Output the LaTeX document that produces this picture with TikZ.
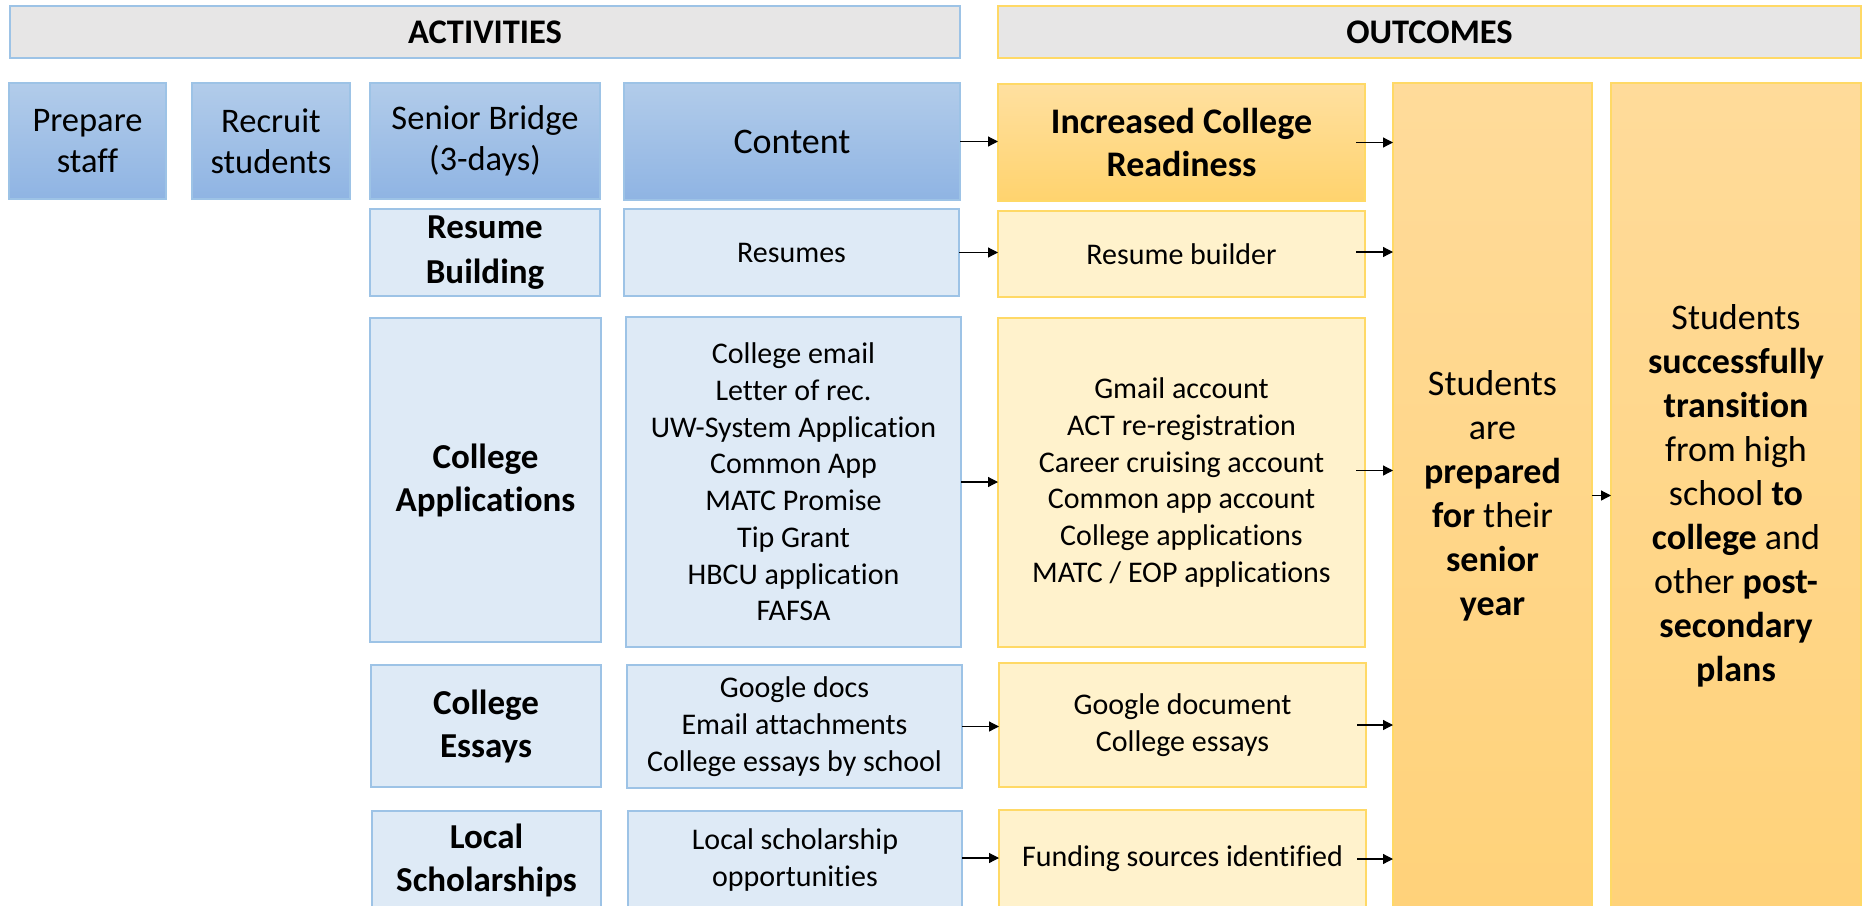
\documentclass[tikz,border=0pt]{standalone}
\usepackage{fontspec}
\setmainfont{Carlito}[Ligatures=NoCommon]
\usetikzlibrary{arrows.meta,shadings}

\definecolor{hdrgray}{HTML}{E7E6E6}
\definecolor{blueline}{HTML}{9DC3E6}
\definecolor{bluetop}{HTML}{B2CCEA}
\definecolor{bluebot}{HTML}{8FB4E3}
\definecolor{bluepale}{HTML}{DEEAF6}
\definecolor{goldline}{HTML}{FFD966}
\definecolor{goldtop}{HTML}{FFE0A0}
\definecolor{goldbot}{HTML}{FFD36E}
\definecolor{goldpale}{HTML}{FFF2CC}
\definecolor{coltop}{HTML}{FFDB9A}
\definecolor{colbot}{HTML}{FFD27A}

\newcommand{\fsz}[2]{\fontsize{#1}{#2}\selectfont}

\tikzset{
  box/.style={rectangle, inner sep=2pt, outer sep=0pt, line width=1.3pt, align=center, text=black},
  header/.style={box, fill=hdrgray, font=\fsz{34.5}{41}\bfseries},
  darkblue/.style={box, draw=blueline, top color=bluetop, bottom color=bluebot},
  paleblue/.style={box, draw=blueline, fill=bluepale},
  goldbox/.style={box, draw=goldline, top color=goldtop, bottom color=goldbot},
  paleyellow/.style={box, draw=goldline, fill=goldpale},
  bigcol/.style={box, draw=goldline, top color=coltop, bottom color=colbot, font=\fsz{36}{44}},
  toplabel/.style={font=\fsz{34.5}{41}},
  rowlabel/.style={font=\fsz{35}{43}\bfseries},
  listtext/.style={font=\fsz{30}{36.7}},
  arr/.style={draw=black, line width=1.2pt, -{Triangle[length=10pt,width=10pt]}},
  wh/.style n args={2}{minimum width=#1pt, minimum height=#2pt}
}

\begin{document}
\begin{tikzpicture}[x=1pt,y=-1pt]
\useasboundingbox (0,0) rectangle (1868,905);
\clip (0,0) rectangle (1868,905);

% section headers
\node[header, draw=blueline, wh={950}{52}] (act) at (485,32) {ACTIVITIES};
\node[header, draw=goldline, wh={863}{52}] (out) at (1429.5,32) {OUTCOMES};

% top row of activities
\node[darkblue, toplabel, wh={157}{116}] (prep) at (87.5,141) {Prepare\\staff};
\node[darkblue, toplabel, wh={158}{116}] (recr) at (271,141) {Recruit\\students};
\node[darkblue, toplabel, wh={230}{116}] (senior) at (485,141) {Senior Bridge\\(3-days)};
\node[darkblue, font=\fsz{36}{43}, wh={336}{117}] (content) at (792,141.5) {Content};
\node[goldbox, font=\fsz{36}{43}\bfseries, wh={367}{117}] (inc) at (1181.5,142.5) {Increased College\\Readiness};

% resume building
\node[paleblue, rowlabel, font=\fsz{35}{45}\bfseries, wh={230}{87}] (resb) at (485,252.5) {Resume\\Building};
\node[paleblue, listtext, wh={335}{87}] (resumes) at (791.5,252.5) {Resumes};
\node[paleyellow, listtext, wh={367}{86}] (resout) at (1181.5,254) {Resume builder};

% college applications
\node[paleblue, rowlabel, wh={231}{324}] (capp) at (485.5,480) {College\\Applications};
\node[paleblue, listtext, wh={335}{330}] (capplist) at (793.5,482) {College email\\Letter of rec.\\UW-System Application\\Common App\\MATC Promise\\Tip Grant\\HBCU application\\FAFSA};
\node[paleyellow, listtext, wh={367}{329}] (cappout) at (1181.5,482.5) {Gmail account\\ACT re-registration\\Career cruising account\\Common app account\\College applications\\MATC / EOP applications};

% college essays
\node[paleblue, rowlabel, wh={230}{122}] (ess) at (486,726) {College\\Essays};
\node[paleblue, listtext, wh={335}{123}] (esslist) at (794.5,726.5) {Google docs\\Email attachments\\College essays by school};
\node[paleyellow, listtext, wh={367}{124}] (essout) at (1182.5,725) {Google document\\College essays};

% local scholarships
\node[paleblue, rowlabel, wh={229}{98}] (loc) at (486.5,860) {Local\\Scholarships};
\node[paleblue, listtext, wh={334}{98}] (loclist) at (795,860) {Local scholarship\\opportunities};
\node[paleyellow, listtext, wh={367}{98}] (locout) at (1182.5,859) {Funding sources identified};

% long-term outcomes
\node[bigcol, wh={199}{825}] (prepared) at (1492.5,495.5)
  {Students\\are\\\textbf{prepared}\\\textbf{for} their\\\textbf{senior}\\\textbf{year}};
\node[bigcol, wh={250}{825}] (transition) at (1736,495.5)
  {Students\\\textbf{successfully}\\\textbf{transition}\\from high\\school \textbf{to}\\\textbf{college} and\\other \textbf{post-}\\\textbf{secondary}\\\textbf{plans}};

% activities to short-term outcomes
\draw[arr] (content.east) -- (content.east -| inc.west);
\draw[arr] (resumes.east) -- (resumes.east -| resout.west);
\draw[arr] (capplist.east) -- (capplist.east -| cappout.west);
\draw[arr] (esslist.east) -- (esslist.east -| essout.west);
\draw[arr] ([yshift=2pt]loclist.east) -- ([yshift=2pt]loclist.east -| locout.west);

% short-term outcomes into the senior-year column
\draw[arr] ([xshift=-9pt]inc.east) -- (inc.east -| prepared.west);
\draw[arr] ([xshift=-9pt,yshift=2pt]resout.east) -- ([yshift=2pt]resout.east -| prepared.west);
\draw[arr] ([xshift=-9pt,yshift=12pt]cappout.east) -- ([yshift=12pt]cappout.east -| prepared.west);
\draw[arr] ([xshift=-9pt]essout.east) -- (essout.east -| prepared.west);
\draw[arr] ([xshift=-9pt]locout.east) -- (locout.east -| prepared.west);

% senior year to transition
\draw[arr] (prepared.east) -- (transition.west);
\end{tikzpicture}
\end{document}
